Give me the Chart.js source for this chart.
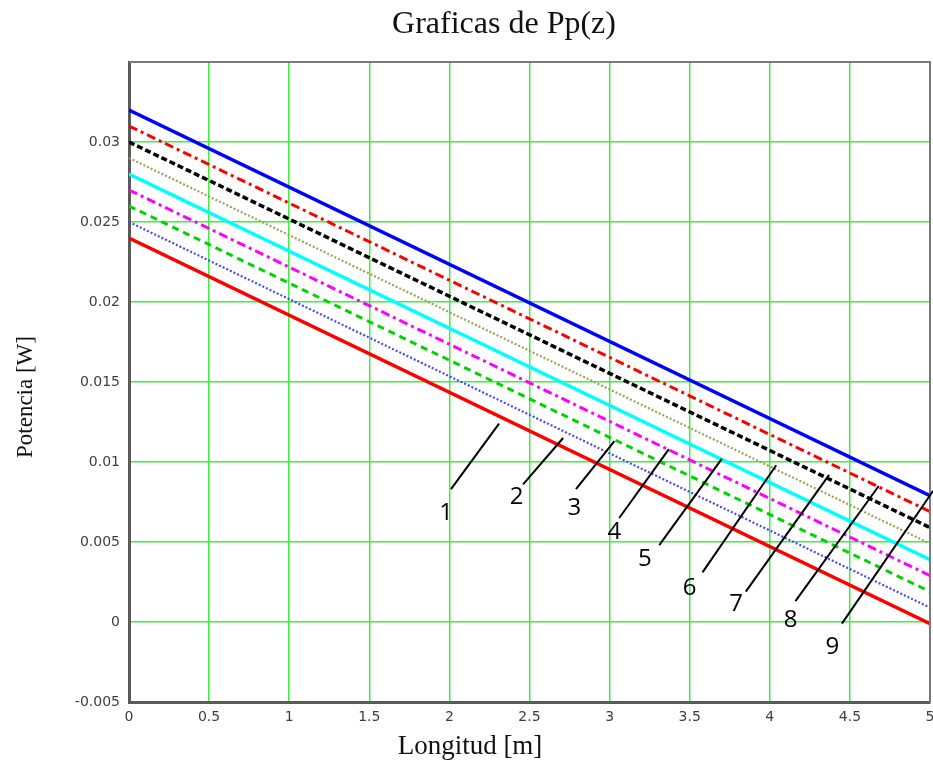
<!DOCTYPE html>
<html>
<head>
<meta charset="utf-8">
<script src="https://cdn.jsdelivr.net/npm/chart.js@4.4.1/dist/chart.umd.min.js"></script>
<style>
  html, body { margin: 0; padding: 0; background: #fff; }
  #wrap { width: 933px; height: 765px; }
</style>
</head>
<body>
<div id="wrap"><canvas id="myChart" width="933" height="765"></canvas></div>
<script>
// longitud z [m] at the two ends of each curve
var longitud = [0, 5];

// Pp(z) [W], curves numbered 1..9 from bottom to top
var pp1 = [0.0240, -0.0001];
var pp2 = [0.0250, 0.0009];
var pp3 = [0.0260, 0.0019];
var pp4 = [0.0270, 0.0029];
var pp5 = [0.0280, 0.0039];
var pp6 = [0.0290, 0.0049];
var pp7 = [0.0300, 0.0059];
var pp8 = [0.0310, 0.0069];
var pp9 = [0.0320, 0.0079];

var xTickLabels = ["0", "0.5", "1", "1.5", "2", "2.5", "3", "3.5", "4", "4.5", "5"];
var yTickLabels = ["-0.005", "0", "0.005", "0.01", "0.015", "0.02", "0.025", "0.03", ""];

var titulo = "Graficas de Pp(z)";
var tituloX = "Longitud [m]";
var tituloY = "Potencia [W]";

// numbered labels with leader lines (data units)
var curveNames = ["1", "2", "3", "4", "5", "6", "7", "8", "9"];
var leaderFrom = [[2.01, 0.0083], [2.46, 0.0086], [2.79, 0.0083], [3.06, 0.0065], [3.31, 0.0048], [3.58, 0.0031], [3.85, 0.0019], [4.16, 0.0013], [4.45, -0.0001]];
var leaderTo   = [[2.31, 0.0124], [2.71, 0.0115], [3.03, 0.0113], [3.37, 0.0108], [3.70, 0.0102], [4.04, 0.0098], [4.37, 0.0092], [4.68, 0.0085], [5.02, 0.0082]];
var labelAt    = [[1.98, 0.0068], [2.42, 0.0078], [2.78, 0.0071], [3.03, 0.0056], [3.22, 0.0039], [3.50, 0.0021], [3.79, 0.0011], [4.13, 0.0001], [4.39, -0.0016]];

function pts(arr) {
    return arr.map(function (v, i) { return { x: longitud[i], y: v }; });
}

function serie(label, values, color, width, dash) {
    return {
        label: label,
        data: pts(values),
        borderColor: color,
        borderWidth: width,
        borderDash: dash,
        pointRadius: 0,
        fill: false,
        tension: 0
    };
}

var marcas = {
    id: "marcas",
    afterDraw: function (chart) {
        var ctx = chart.ctx, xs = chart.scales.x, ys = chart.scales.y, a = chart.chartArea;
        ctx.save();
        // frame top/right
        ctx.strokeStyle = "#7a7a7a";
        ctx.lineWidth = 2;
        ctx.beginPath();
        ctx.moveTo(a.left, a.top);
        ctx.lineTo(a.right, a.top);
        ctx.lineTo(a.right, a.bottom);
        ctx.stroke();
        // leaders
        ctx.strokeStyle = "#000";
        ctx.lineWidth = 2;
        for (var i = 0; i < curveNames.length; i++) {
            ctx.beginPath();
            ctx.moveTo(xs.getPixelForValue(leaderFrom[i][0]), ys.getPixelForValue(leaderFrom[i][1]));
            ctx.lineTo(xs.getPixelForValue(leaderTo[i][0]), ys.getPixelForValue(leaderTo[i][1]));
            ctx.stroke();
        }
        ctx.fillStyle = "#000";
        ctx.font = "24px 'Open Sans'";
        ctx.textAlign = "center";
        ctx.textBaseline = "middle";
        for (var j = 0; j < curveNames.length; j++) {
            ctx.fillText(curveNames[j], xs.getPixelForValue(labelAt[j][0]), ys.getPixelForValue(labelAt[j][1]));
        }
        // titles
        ctx.fillStyle = "#111";
        ctx.font = "32px 'Liberation Serif'";
        ctx.fillText(titulo, 504, 25);
        ctx.font = "27px 'Liberation Serif'";
        ctx.fillText(tituloX, 470, 747);
        ctx.translate(26, 397);
        ctx.rotate(-Math.PI / 2);
        ctx.font = "23px 'Liberation Serif'";
        ctx.fillText(tituloY, 0, 0);
        ctx.restore();
    }
};

window.onload = function ()
{
    var canvasP = document.getElementById("myChart");
    var ctxP = canvasP.getContext('2d');
    var chart = new Chart(ctxP, {
        type: 'line',
        data: {
            datasets: [
                serie("1", pp1, "#ff0000", 3.5, []),
                serie("2", pp2, "#4646ff", 2.2, [2, 2]),
                serie("3", pp3, "#00d400", 3, [7, 5]),
                serie("4", pp4, "#ff00ff", 3, [9, 4, 3, 4]),
                serie("5", pp5, "#00ffff", 3.5, []),
                serie("6", pp6, "#a0a055", 2.2, [2, 2]),
                serie("7", pp7, "#000000", 3.5, [6, 3]),
                serie("8", pp8, "#ff0000", 3, [9, 4, 3, 4]),
                serie("9", pp9, "#0000ff", 3.5, [])
            ]
        },
        plugins: [marcas],
        options: {
            responsive: false,
            animation: false,
            layout: { autoPadding: false, padding: { left: 0, right: 3, top: 62, bottom: 0 } },
            plugins: {
                legend: { display: false },
                tooltip: { enabled: false },
                title: { display: false }
            },
            scales: {
                x: {
                    type: 'linear',
                    min: 0,
                    max: 5,
                    afterFit: function (s) { s.height = 63; s.paddingLeft = 0; s.paddingRight = 0; },
                    ticks: {
                        stepSize: 0.5,
                        padding: 7,
                        color: "#3c3c4c",
                        font: { family: "'DejaVu Sans'", size: 14 },
                        maxRotation: 0,
                        callback: function (v, i) { return xTickLabels[i]; }
                    },
                    grid: { color: "#3cf03c", lineWidth: 1.5, drawTicks: false },
                    border: { color: "#5a5a5a", width: 3 }
                },
                y: {
                    min: -0.005,
                    max: 0.035,
                    afterFit: function (s) { s.width = 129; s.paddingTop = 0; s.paddingBottom = 0; },
                    ticks: {
                        stepSize: 0.005,
                        padding: 9,
                        color: "#3c3c4c",
                        font: { family: "'DejaVu Sans'", size: 14 },
                        callback: function (v, i) { return yTickLabels[i]; }
                    },
                    grid: { color: "#3cf03c", lineWidth: 1.5, drawTicks: false },
                    border: { color: "#5a5a5a", width: 3 }
                }
            }
        }
    });
}
</script>
</body>
</html>
